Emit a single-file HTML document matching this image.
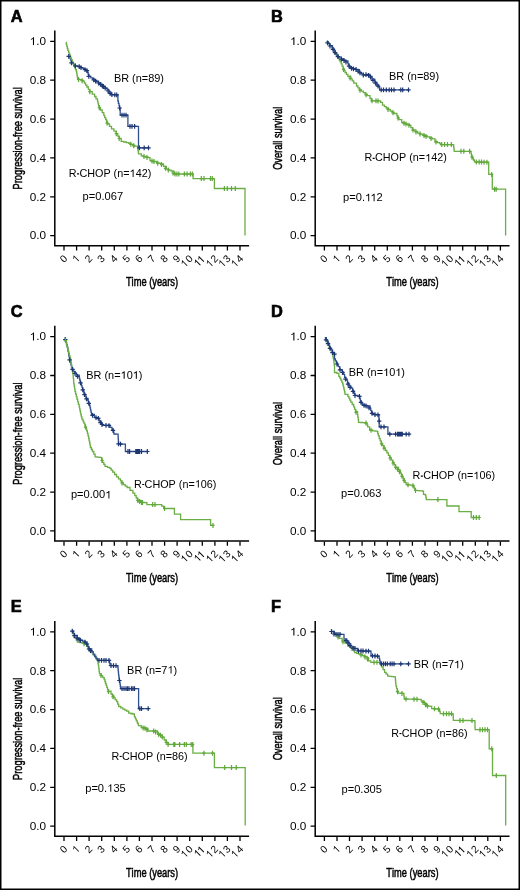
<!DOCTYPE html>
<html><head><meta charset="utf-8"><style>
html,body{margin:0;padding:0;background:#fff;}
body{width:520px;height:890px;overflow:hidden;}
svg{display:block;will-change:transform;}
text{font-family:"Liberation Sans",sans-serif;font-kerning:none;white-space:pre;}
</style></head><body>
<svg width="520" height="890" viewBox="0 0 520 890">
<rect x="0" y="0" width="520" height="890" fill="#fff"/>

<g transform="translate(0,0)">
<text x="10.7" y="21.8" font-size="16.4" font-weight="bold" fill="#000" stroke="#000" stroke-width="0.6">A</text>
<path d="M54.8 30.5V245.8H249.1" fill="none" stroke="#000" stroke-width="1.5"/>
<path d="M50.2 41.4H55M50.2 80.2H55M50.2 119.1H55M50.2 157.9H55M50.2 196.8H55M50.2 235.6H55M64 246.1V250.4M76.6 246.1V250.4M89.1 246.1V250.4M101.7 246.1V250.4M114.3 246.1V250.4M126.9 246.1V250.4M139.4 246.1V250.4M152 246.1V250.4M164.6 246.1V250.4M177.1 246.1V250.4M189.7 246.1V250.4M202.3 246.1V250.4M214.9 246.1V250.4M227.4 246.1V250.4M240 246.1V250.4" stroke="#000" stroke-width="1.3"/>
<g transform="translate(46,45.1) scale(1.07,1)"><text x="-9.2" y="0" font-size="11">.0</text><path d="M-11.2 0L-11.2 -7.9L-11.9 -7.9L-12.4 -7.2L-13 -6.7L-14.1 -6.2L-14.1 -5.3L-13.1 -5.7L-12.2 -6.3L-12.2 0Z"/></g>
<g transform="translate(46,84) scale(1.07,1)"><text x="-15.3" y="0" font-size="11">0.8</text></g>
<g transform="translate(46,122.8) scale(1.07,1)"><text x="-15.3" y="0" font-size="11">0.6</text></g>
<g transform="translate(46,161.7) scale(1.07,1)"><text x="-15.3" y="0" font-size="11">0.4</text></g>
<g transform="translate(46,200.5) scale(1.07,1)"><text x="-15.3" y="0" font-size="11">0.2</text></g>
<g transform="translate(46,239.3) scale(1.07,1)"><text x="-15.3" y="0" font-size="11">0.0</text></g>
<g transform="translate(67.9,259.3) rotate(-45)"><text x="-5.7" y="0" font-size="10.3">0</text></g>
<g transform="translate(80.5,259.3) rotate(-45)"><path d="M-1.9 0L-1.9 -7.4L-2.6 -7.4L-3 -6.7L-3.6 -6.2L-4.6 -5.8L-4.6 -4.9L-3.7 -5.4L-2.8 -5.9L-2.8 0Z"/></g>
<g transform="translate(93,259.3) rotate(-45)"><text x="-5.7" y="0" font-size="10.3">2</text></g>
<g transform="translate(105.6,259.3) rotate(-45)"><text x="-5.7" y="0" font-size="10.3">3</text></g>
<g transform="translate(118.2,259.3) rotate(-45)"><text x="-5.7" y="0" font-size="10.3">4</text></g>
<g transform="translate(130.8,259.3) rotate(-45)"><text x="-5.7" y="0" font-size="10.3">5</text></g>
<g transform="translate(143.3,259.3) rotate(-45)"><text x="-5.7" y="0" font-size="10.3">6</text></g>
<g transform="translate(155.9,259.3) rotate(-45)"><text x="-5.7" y="0" font-size="10.3">7</text></g>
<g transform="translate(168.5,259.3) rotate(-45)"><text x="-5.7" y="0" font-size="10.3">8</text></g>
<g transform="translate(181,259.3) rotate(-45)"><text x="-5.7" y="0" font-size="10.3">9</text></g>
<g transform="translate(193.6,259.3) rotate(-45)"><text x="-5.7" y="0" font-size="10.3">0</text><path d="M-8.6 0L-8.6 -7.4L-9.2 -7.4L-9.7 -6.7L-10.3 -6.2L-11.3 -5.8L-11.3 -4.9L-10.3 -5.4L-9.5 -5.9L-9.5 0Z"/></g>
<g transform="translate(206.2,259.3) rotate(-45)"><path d="M-7.8 0L-7.8 -7.4L-8.5 -7.4L-8.9 -6.7L-9.5 -6.2L-10.5 -5.8L-10.5 -4.9L-9.6 -5.4L-8.7 -5.9L-8.7 0ZM-2.8 0L-2.8 -7.4L-3.5 -7.4L-4 -6.7L-4.5 -6.2L-5.6 -5.8L-5.6 -4.9L-4.6 -5.4L-3.8 -5.9L-3.8 0Z"/></g>
<g transform="translate(218.8,259.3) rotate(-45)"><text x="-5.7" y="0" font-size="10.3">2</text><path d="M-8.6 0L-8.6 -7.4L-9.2 -7.4L-9.7 -6.7L-10.3 -6.2L-11.3 -5.8L-11.3 -4.9L-10.3 -5.4L-9.5 -5.9L-9.5 0Z"/></g>
<g transform="translate(231.3,259.3) rotate(-45)"><text x="-5.7" y="0" font-size="10.3">3</text><path d="M-8.6 0L-8.6 -7.4L-9.2 -7.4L-9.7 -6.7L-10.3 -6.2L-11.3 -5.8L-11.3 -4.9L-10.3 -5.4L-9.5 -5.9L-9.5 0Z"/></g>
<g transform="translate(243.9,259.3) rotate(-45)"><text x="-5.7" y="0" font-size="10.3">4</text><path d="M-8.6 0L-8.6 -7.4L-9.2 -7.4L-9.7 -6.7L-10.3 -6.2L-11.3 -5.8L-11.3 -4.9L-10.3 -5.4L-9.5 -5.9L-9.5 0Z"/></g>
<text transform="translate(152,286.2) scale(0.745,1)" font-size="12.5" text-anchor="middle" stroke="#000" stroke-width="0.5">Time (years)</text>
<text transform="translate(22,138.3) rotate(-90) scale(0.74,1)" font-size="12.5" text-anchor="middle" stroke="#000" stroke-width="0.5">Progression-free survival</text>
</g>
<polyline points="69.3,56.3 70,56.3 70,58.5 70.8,58.5 70.8,60.7 71.5,60.7 71.5,62.9 73.5,62.9 73.5,64.3 75.4,64.3 75.4,65.8 77.3,65.8 77.3,66.2 79.2,66.2 79.2,66.7 81.1,66.7 81.1,67.7 83,67.7 83,68.7 85,68.7 85,69.7 86.9,69.7 86.9,70.6 87.5,70.6 87.5,72.5 88.2,72.5 88.2,74.4 88.8,74.4 88.8,76.3 90.8,76.3 90.8,77.8 92.7,77.8 92.7,79.2 94.6,79.2 94.6,80.5 96.6,80.5 96.6,81.7 98.5,81.7 98.5,83 100.9,83 100.9,84.8 103.3,84.8 103.3,86.5 105.2,86.5 105.2,88.2 107.1,88.2 107.1,89.8 109,89.8 109,92.2 111,92.2 111,94.6 113.3,94.6 113.3,94.7 115.6,94.7 115.6,94.9 117.9,94.9 117.9,95 117.9,101 118.4,101 118.4,103.3 119,103.3 119,105.7 119.5,105.7 119.5,108 120.2,108 120.2,115.1 127.9,115.1 127.9,126.3 138.5,126.3 138.5,147.8 149,147.8" fill="none" stroke="#30508f" stroke-width="1.3" stroke-linejoin="miter"/>
<polyline points="65.8,42.3 66.3,42.3 66.3,44.4 66.8,44.4 66.8,46.4 67.3,46.4 67.3,48.5 67.9,48.5 67.9,50.4 68.6,50.4 68.6,52.3 69.2,52.3 69.2,54.2 70,54.2 70,56.1 70.7,56.1 70.7,58.1 71.5,58.1 71.5,60 72.3,60 72.3,61.9 73,61.9 73,63.9 73.8,63.9 73.8,65.8 74.6,65.8 74.6,67.7 75.5,67.7 75.5,69.6 76.3,69.6 76.3,71.5 76.7,71.5 76.7,73.4 77,73.4 77,75.3 77.3,75.3 77.3,77.3 77.7,77.3 77.7,79.2 79.5,79.2 79.5,79.7 81.2,79.7 81.2,80.2 83,80.2 83,81.2 84.3,81.2 84.3,83.1 85.6,83.1 85.6,85.1 86.9,85.1 86.9,87 88.3,87 88.3,89.3 89.8,89.3 89.8,91.7 92.2,91.7 92.2,94.1 94.6,94.1 94.6,96.5 96,96.5 96,98.9 97.5,98.9 97.5,101.3 98,101.3 98,103.7 98.5,103.7 98.5,106 99.5,106 99.5,108 100.5,108 100.5,110 102.2,110 102.2,112.7 103.8,112.7 103.8,115.4 104.7,115.4 104.7,117.6 105.7,117.6 105.7,119.7 106.6,119.7 106.6,121.8 107.5,121.8 107.5,124 109.5,124 109.5,126.4 111.5,126.4 111.5,128.8 113.9,128.8 113.9,131.2 116.3,131.2 116.3,133.7 117.8,133.7 117.8,136.1 119.2,136.1 119.2,138.5 121.2,138.5 121.2,141.3 123.7,141.3 123.7,142 126.3,142 126.3,142.6 128.8,142.6 128.8,143.3 130.7,143.3 130.7,144.3 132.7,144.3 132.7,145.2 134.6,145.2 134.6,146.2 137.5,146.2 137.5,148 137.8,148 137.8,149.9 138.2,149.9 138.2,151.9 138.5,151.9 138.5,153.8 141.3,153.8 141.3,155.8 143.5,155.8 143.5,156.4 145.8,156.4 145.8,157.1 148,157.1 148,157.7 150,157.7 150,160.6 151.9,160.6 151.9,161.1 153.8,161.1 153.8,161.5 156.7,161.5 156.7,163 158.6,163 158.6,163.4 160.6,163.4 160.6,163.8 163.5,163.8 163.5,166.3 166.3,166.3 166.3,169.2 168.8,169.2 168.8,170.2 171.2,170.2 171.2,171.2 174,171.2 174,174 193.1,174 193.1,178.6 214.4,178.6 214.4,188.5 245,188.5 245,235.6" fill="none" stroke="#6aae45" stroke-width="1.3" stroke-linejoin="miter"/>
<path d="M66.5 56.3h4.4M68.7 53.9v4.8M69.3 62.9h4.4M71.5 60.5v4.8M73.2 65.8h4.4M75.4 63.4v4.8M77 66.7h4.4M79.2 64.3v4.8M78.8 67.6h4.4M81 65.2v4.8M82.8 69.7h4.4M85 67.3v4.8M84.7 70.6h4.4M86.9 68.2v4.8M86.6 76.3h4.4M88.8 73.9v4.8M91.5 79.9h4.4M93.7 77.5v4.8M93.4 81.1h4.4M95.6 78.7v4.8M96.3 83h4.4M98.5 80.6v4.8M98.2 84.4h4.4M100.4 82v4.8M100.1 85.8h4.4M102.3 83.4v4.8M101.1 86.5h4.4M103.3 84.1v4.8M103 88.2h4.4M105.2 85.8v4.8M105.9 91h4.4M108.1 88.6v4.8M107.8 93.4h4.4M110 91v4.8M109.7 94.7h4.4M111.9 92.3v4.8M112.6 94.8h4.4M114.8 92.4v4.8M114.5 94.9h4.4M116.7 92.5v4.8M117.4 108h4.4M119.6 105.6v4.8M119.8 115.1h4.4M122 112.7v4.8M121.8 115.1h4.4M124 112.7v4.8M123.8 115.1h4.4M126 112.7v4.8M127.8 126.3h4.4M130 123.9v4.8M129.8 126.3h4.4M132 123.9v4.8M132.4 126.3h4.4M134.6 123.9v4.8M137.2 147.8h4.4M139.4 145.4v4.8M142 147.8h4.4M144.2 145.4v4.8M146.3 147.8h4.4M148.5 145.4v4.8" stroke="#1c3674" stroke-width="1.2" fill="none"/>
<path d="M76.9 79.4h3.2M78.5 76.9v5M80.5 80.7h3.2M82.1 78.2v5M88.2 91.7h3.2M89.8 89.2v5M97.8 107.8h3.2M99.4 105.3v5M105.5 123.1h3.2M107.1 120.6v5M114.7 133.7h3.2M116.3 131.2v5M117.6 138.5h3.2M119.2 136v5M129.2 144.3h3.2M130.8 141.8v5M132.1 145.8h3.2M133.7 143.2v5M142.4 156.6h3.2M144 154.1v5M145.4 157.4h3.2M147 154.9v5M150.4 161.1h3.2M152 158.6v5M152.4 161.6h3.2M154 159.1v5M156.1 163.2h3.2M157.7 160.7v5M159.9 164.6h3.2M161.5 162.1v5M163.8 168.3h3.2M165.4 165.8v5M166.7 170h3.2M168.3 167.5v5M171.4 173h3.2M173 170.5v5M173.4 174h3.2M175 171.5v5M175.3 174h3.2M176.9 171.5v5M177.2 174h3.2M178.8 171.5v5M182.8 174h3.2M184.4 171.5v5M185.5 174h3.2M187.1 171.5v5M188.8 174h3.2M190.4 171.5v5M190.7 174h3.2M192.3 171.5v5M199.7 178.6h3.2M201.3 176.1v5M202.4 178.6h3.2M204 176.1v5M208.9 178.6h3.2M210.5 176.1v5M210.7 178.6h3.2M212.3 176.1v5M222.8 188.5h3.2M224.4 186v5M225.7 188.5h3.2M227.3 186v5M229.9 188.5h3.2M231.5 186v5M233.7 188.5h3.2M235.3 186v5" stroke="#5fa83a" stroke-width="1.2" fill="none"/>
<g transform="translate(113.9,81.8) scale(1.04,1)"><text x="0" y="0" font-size="10.5">BR (n=89)</text></g>
<g transform="translate(68.8,176.9) scale(1.03,1)"><text x="0" y="0" font-size="10.5">R</text><text x="10.3" y="0" font-size="10.5">CHOP (n=</text><text x="64.9" y="0" font-size="10.5">42)</text><path d="M8 -3.6h2v1.1h-2ZM62.9 0L62.9 -7.5L62.2 -7.5L61.8 -6.9L61.2 -6.4L60.1 -5.9L60.1 -5L61.1 -5.5L62 -6L62 0Z"/></g>
<g transform="translate(82.6,200.4) scale(1.06,1)"><text x="0" y="0" font-size="10.5">p=0.067</text></g>
<g transform="translate(260.4,0)">
<text x="10.7" y="21.8" font-size="16.4" font-weight="bold" fill="#000" stroke="#000" stroke-width="0.6">B</text>
<path d="M54.8 30.5V245.8H249.1" fill="none" stroke="#000" stroke-width="1.5"/>
<path d="M50.2 41.4H55M50.2 80.2H55M50.2 119.1H55M50.2 157.9H55M50.2 196.8H55M50.2 235.6H55M64 246.1V250.4M76.6 246.1V250.4M89.1 246.1V250.4M101.7 246.1V250.4M114.3 246.1V250.4M126.9 246.1V250.4M139.4 246.1V250.4M152 246.1V250.4M164.6 246.1V250.4M177.1 246.1V250.4M189.7 246.1V250.4M202.3 246.1V250.4M214.9 246.1V250.4M227.4 246.1V250.4M240 246.1V250.4" stroke="#000" stroke-width="1.3"/>
<g transform="translate(46,45.1) scale(1.07,1)"><text x="-9.2" y="0" font-size="11">.0</text><path d="M-11.2 0L-11.2 -7.9L-11.9 -7.9L-12.4 -7.2L-13 -6.7L-14.1 -6.2L-14.1 -5.3L-13.1 -5.7L-12.2 -6.3L-12.2 0Z"/></g>
<g transform="translate(46,84) scale(1.07,1)"><text x="-15.3" y="0" font-size="11">0.8</text></g>
<g transform="translate(46,122.8) scale(1.07,1)"><text x="-15.3" y="0" font-size="11">0.6</text></g>
<g transform="translate(46,161.7) scale(1.07,1)"><text x="-15.3" y="0" font-size="11">0.4</text></g>
<g transform="translate(46,200.5) scale(1.07,1)"><text x="-15.3" y="0" font-size="11">0.2</text></g>
<g transform="translate(46,239.3) scale(1.07,1)"><text x="-15.3" y="0" font-size="11">0.0</text></g>
<g transform="translate(67.9,259.3) rotate(-45)"><text x="-5.7" y="0" font-size="10.3">0</text></g>
<g transform="translate(80.5,259.3) rotate(-45)"><path d="M-1.9 0L-1.9 -7.4L-2.6 -7.4L-3 -6.7L-3.6 -6.2L-4.6 -5.8L-4.6 -4.9L-3.7 -5.4L-2.8 -5.9L-2.8 0Z"/></g>
<g transform="translate(93,259.3) rotate(-45)"><text x="-5.7" y="0" font-size="10.3">2</text></g>
<g transform="translate(105.6,259.3) rotate(-45)"><text x="-5.7" y="0" font-size="10.3">3</text></g>
<g transform="translate(118.2,259.3) rotate(-45)"><text x="-5.7" y="0" font-size="10.3">4</text></g>
<g transform="translate(130.8,259.3) rotate(-45)"><text x="-5.7" y="0" font-size="10.3">5</text></g>
<g transform="translate(143.3,259.3) rotate(-45)"><text x="-5.7" y="0" font-size="10.3">6</text></g>
<g transform="translate(155.9,259.3) rotate(-45)"><text x="-5.7" y="0" font-size="10.3">7</text></g>
<g transform="translate(168.5,259.3) rotate(-45)"><text x="-5.7" y="0" font-size="10.3">8</text></g>
<g transform="translate(181,259.3) rotate(-45)"><text x="-5.7" y="0" font-size="10.3">9</text></g>
<g transform="translate(193.6,259.3) rotate(-45)"><text x="-5.7" y="0" font-size="10.3">0</text><path d="M-8.6 0L-8.6 -7.4L-9.2 -7.4L-9.7 -6.7L-10.3 -6.2L-11.3 -5.8L-11.3 -4.9L-10.3 -5.4L-9.5 -5.9L-9.5 0Z"/></g>
<g transform="translate(206.2,259.3) rotate(-45)"><path d="M-7.8 0L-7.8 -7.4L-8.5 -7.4L-8.9 -6.7L-9.5 -6.2L-10.5 -5.8L-10.5 -4.9L-9.6 -5.4L-8.7 -5.9L-8.7 0ZM-2.8 0L-2.8 -7.4L-3.5 -7.4L-4 -6.7L-4.5 -6.2L-5.6 -5.8L-5.6 -4.9L-4.6 -5.4L-3.8 -5.9L-3.8 0Z"/></g>
<g transform="translate(218.8,259.3) rotate(-45)"><text x="-5.7" y="0" font-size="10.3">2</text><path d="M-8.6 0L-8.6 -7.4L-9.2 -7.4L-9.7 -6.7L-10.3 -6.2L-11.3 -5.8L-11.3 -4.9L-10.3 -5.4L-9.5 -5.9L-9.5 0Z"/></g>
<g transform="translate(231.3,259.3) rotate(-45)"><text x="-5.7" y="0" font-size="10.3">3</text><path d="M-8.6 0L-8.6 -7.4L-9.2 -7.4L-9.7 -6.7L-10.3 -6.2L-11.3 -5.8L-11.3 -4.9L-10.3 -5.4L-9.5 -5.9L-9.5 0Z"/></g>
<g transform="translate(243.9,259.3) rotate(-45)"><text x="-5.7" y="0" font-size="10.3">4</text><path d="M-8.6 0L-8.6 -7.4L-9.2 -7.4L-9.7 -6.7L-10.3 -6.2L-11.3 -5.8L-11.3 -4.9L-10.3 -5.4L-9.5 -5.9L-9.5 0Z"/></g>
<text transform="translate(152,286.2) scale(0.745,1)" font-size="12.5" text-anchor="middle" stroke="#000" stroke-width="0.5">Time (years)</text>
<text transform="translate(22,138.3) rotate(-90) scale(0.74,1)" font-size="12.5" text-anchor="middle" stroke="#000" stroke-width="0.5">Overall survival</text>
</g>
<polyline points="326.7,41.7 328.3,41.7 328.3,43.6 329.9,43.6 329.9,45.6 331.5,45.6 331.5,47.5 332.7,47.5 332.7,49.7 333.9,49.7 333.9,51.9 335.1,51.9 335.1,54 336.3,54 336.3,56.2 337.8,56.2 337.8,58.1 339.2,58.1 339.2,60 340.2,60 340.2,61.9 341.2,61.9 341.2,63.8 342.1,63.8 342.1,66.2 343.1,66.2 343.1,68.7 344.1,68.7 344.1,70.6 345,70.6 345,72.5 346.4,72.5 346.4,74.4 347.9,74.4 347.9,76.3 350.8,76.3 350.8,78.8 352.2,78.8 352.2,80.9 353.7,80.9 353.7,83.1 356.5,83.1 356.5,86 357.9,86 357.9,87.9 359.4,87.9 359.4,89.8 361.4,89.8 361.4,91.2 363.3,91.2 363.3,92.7 365.2,92.7 365.2,94.2 367.1,94.2 367.1,95.6 370,95.6 370,98.5 371.5,98.5 371.5,100.8 377.7,100.8 380.6,100.8 380.6,102.3 382.5,102.3 382.5,105.2 384.4,105.2 384.4,106.7 386.3,106.7 386.3,108.1 388.2,108.1 388.2,109.5 390.2,109.5 390.2,111 392.1,111 392.1,112.2 394,112.2 394,113.5 396.9,113.5 396.9,115.8 397.9,115.8 397.9,117.7 398.8,117.7 398.8,119.6 401.7,119.6 401.7,122.5 403.6,122.5 403.6,123.2 405.6,123.2 405.6,123.8 407.5,123.8 407.5,124.6 409.4,124.6 409.4,125.4 410.9,125.4 410.9,127.6 412.5,127.6 412.5,129.8 415.1,129.8 415.1,131.4 417.7,131.4 417.7,133.1 420.1,133.1 420.1,134.1 422.5,134.1 422.5,135 424.9,135 424.9,135.9 427.3,135.9 427.3,136.9 429.7,136.9 429.7,137.9 432.1,137.9 432.1,138.8 435,138.8 435,141.7 437.4,141.7 437.4,142.7 439.8,142.7 439.8,143.7 440.8,143.7 440.8,144.6 453.3,144.6 453.6,144.6 453.6,146.8 453.9,146.8 453.9,149.1 454.2,149.1 454.2,151.3 470.6,151.3 471.1,151.3 471.1,153.8 471.5,153.8 471.5,156.2 472.5,156.2 472.5,158.1 473.4,158.1 473.4,160 474.4,160 474.4,161.9 476.4,161.9 476.4,162 478.5,162 478.5,162 480.5,162 480.5,162.1 482.6,162.1 482.6,162.1 484.6,162.1 484.6,162.2 486.7,162.2 486.7,162.2 488.7,162.2 488.7,162.3 488.7,174.4 492.3,174.4 492.3,189.2 505.6,189.2 505.6,235.6" fill="none" stroke="#6aae45" stroke-width="1.3" stroke-linejoin="miter"/>
<polyline points="326.7,41.7 328.1,41.7 328.1,43.7 329.6,43.7 329.6,45.6 332.5,45.6 332.5,48.5 333.9,48.5 333.9,50.9 335.4,50.9 335.4,53.3 336.9,53.3 336.9,55.2 338.3,55.2 338.3,57.1 341.2,57.1 341.2,59 343.1,59 343.1,60 345,60 345,61 347.9,61 347.9,63.8 348.9,63.8 348.9,65.8 349.8,65.8 349.8,67.7 352.7,67.7 352.7,68.7 354.6,68.7 354.6,69.2 356.5,69.2 356.5,69.6 359.4,69.6 359.4,72.5 361.4,72.5 361.4,73.8 363.3,73.8 363.3,75 365.2,75 365.2,74.7 367.1,74.7 367.1,74.4 370,74.4 370,76.3 371.9,76.3 371.9,79.2 374.8,79.2 374.8,82.1 376.7,82.1 376.7,85 378.7,85 378.7,86.9 379.6,86.9 379.6,89.8 408.8,89.8" fill="none" stroke="#30508f" stroke-width="1.3" stroke-linejoin="miter"/>
<path d="M341.9 69.5h3.2M343.5 67v5M348.4 78.1h3.2M350 75.6v5M358.4 90.2h3.2M360 87.7v5M364.4 94.8h3.2M366 92.3v5M370.4 100.8h3.2M372 98.3v5M374.4 100.8h3.2M376 98.3v5M376.4 101h3.2M378 98.5v5M386.4 109.4h3.2M388 106.9v5M391.4 112.8h3.2M393 110.3v5M396.4 118h3.2M398 115.5v5M402.4 123.3h3.2M404 120.8v5M404.4 124h3.2M406 121.5v5M407.4 125.2h3.2M409 122.7v5M411.4 130.1h3.2M413 127.6v5M414.4 132h3.2M416 129.5v5M418.4 134h3.2M420 131.5v5M422.4 135.6h3.2M424 133.1v5M424.4 136.4h3.2M426 133.9v5M429.4 138.4h3.2M431 135.9v5M434.4 142.1h3.2M436 139.6v5M440.1 144.6h3.2M441.7 142.1v5M443 144.6h3.2M444.6 142.1v5M445.9 144.6h3.2M447.5 142.1v5M449.7 144.6h3.2M451.3 142.1v5M459.4 151.3h3.2M461 148.8v5M462.2 151.3h3.2M463.8 148.8v5M468 151.3h3.2M469.6 148.8v5M470.4 157.2h3.2M472 154.7v5M474.7 162h3.2M476.3 159.5v5M477.6 162h3.2M479.2 159.5v5M479.9 162.1h3.2M481.5 159.6v5M482.4 162.2h3.2M484 159.7v5M485.3 162.2h3.2M486.9 159.7v5M490.1 174.4h3.2M491.7 171.9v5M493 189.2h3.2M494.6 186.7v5M494.6 189.2h3.2M496.2 186.7v5" stroke="#5fa83a" stroke-width="1.2" fill="none"/>
<path d="M325.3 42.8h4.4M327.5 40.4v4.8M327.8 46h4.4M330 43.6v4.8M330.8 49.3h4.4M333 46.9v4.8M332.8 52.6h4.4M335 50.2v4.8M335.8 56.7h4.4M338 54.3v4.8M339.3 59.2h4.4M341.5 56.8v4.8M341.8 60.5h4.4M344 58.1v4.8M343.8 62h4.4M346 59.6v4.8M346.8 66.1h4.4M349 63.7v4.8M349.3 68.3h4.4M351.5 65.9v4.8M351.3 68.9h4.4M353.5 66.5v4.8M353.8 69.5h4.4M356 67.1v4.8M355.8 71.1h4.4M358 68.7v4.8M357.8 72.9h4.4M360 70.5v4.8M361.1 75h4.4M363.3 72.6v4.8M363.8 74.6h4.4M366 72.2v4.8M366.3 75.3h4.4M368.5 72.9v4.8M368.3 77.1h4.4M370.5 74.7v4.8M370.8 80.3h4.4M373 77.9v4.8M373.3 83.2h4.4M375.5 80.8v4.8M375.8 86.2h4.4M378 83.8v4.8M379 89.8h4.4M381.2 87.4v4.8M381.3 89.8h4.4M383.5 87.4v4.8M384.1 89.8h4.4M386.3 87.4v4.8M387 89.8h4.4M389.2 87.4v4.8M389.3 89.8h4.4M391.5 87.4v4.8M391.8 89.8h4.4M394 87.4v4.8M398.6 89.8h4.4M400.8 87.4v4.8M400.5 89.8h4.4M402.7 87.4v4.8M406.3 89.8h4.4M408.5 87.4v4.8" stroke="#1c3674" stroke-width="1.2" fill="none"/>
<g transform="translate(389,79.8) scale(1.04,1)"><text x="0" y="0" font-size="10.5">BR (n=89)</text></g>
<g transform="translate(364.4,161.4) scale(1.03,1)"><text x="0" y="0" font-size="10.5">R</text><text x="10.3" y="0" font-size="10.5">CHOP (n=</text><text x="64.9" y="0" font-size="10.5">42)</text><path d="M8 -3.6h2v1.1h-2ZM62.9 0L62.9 -7.5L62.2 -7.5L61.8 -6.9L61.2 -6.4L60.1 -5.9L60.1 -5L61.1 -5.5L62 -6L62 0Z"/></g>
<g transform="translate(343.1,201.2) scale(1.06,1)"><text x="0" y="0" font-size="10.5">p=0.</text><text x="31.6" y="0" font-size="10.5">2</text><path d="M24.6 0L24.6 -7.5L23.9 -7.5L23.5 -6.9L22.9 -6.4L21.8 -5.9L21.8 -5L22.8 -5.5L23.7 -6L23.7 0ZM29.7 0L29.7 -7.5L29 -7.5L28.5 -6.9L27.9 -6.4L26.9 -5.9L26.9 -5L27.9 -5.5L28.8 -6L28.8 0Z"/></g>
<g transform="translate(0,295.3)">
<text x="10.7" y="21.8" font-size="16.4" font-weight="bold" fill="#000" stroke="#000" stroke-width="0.6">C</text>
<path d="M54.8 30.5V245.8H249.1" fill="none" stroke="#000" stroke-width="1.5"/>
<path d="M50.2 41.4H55M50.2 80.2H55M50.2 119.1H55M50.2 157.9H55M50.2 196.8H55M50.2 235.6H55M64 246.1V250.4M76.6 246.1V250.4M89.1 246.1V250.4M101.7 246.1V250.4M114.3 246.1V250.4M126.9 246.1V250.4M139.4 246.1V250.4M152 246.1V250.4M164.6 246.1V250.4M177.1 246.1V250.4M189.7 246.1V250.4M202.3 246.1V250.4M214.9 246.1V250.4M227.4 246.1V250.4M240 246.1V250.4" stroke="#000" stroke-width="1.3"/>
<g transform="translate(46,45.1) scale(1.07,1)"><text x="-9.2" y="0" font-size="11">.0</text><path d="M-11.2 0L-11.2 -7.9L-11.9 -7.9L-12.4 -7.2L-13 -6.7L-14.1 -6.2L-14.1 -5.3L-13.1 -5.7L-12.2 -6.3L-12.2 0Z"/></g>
<g transform="translate(46,84) scale(1.07,1)"><text x="-15.3" y="0" font-size="11">0.8</text></g>
<g transform="translate(46,122.8) scale(1.07,1)"><text x="-15.3" y="0" font-size="11">0.6</text></g>
<g transform="translate(46,161.7) scale(1.07,1)"><text x="-15.3" y="0" font-size="11">0.4</text></g>
<g transform="translate(46,200.5) scale(1.07,1)"><text x="-15.3" y="0" font-size="11">0.2</text></g>
<g transform="translate(46,239.3) scale(1.07,1)"><text x="-15.3" y="0" font-size="11">0.0</text></g>
<g transform="translate(67.9,259.3) rotate(-45)"><text x="-5.7" y="0" font-size="10.3">0</text></g>
<g transform="translate(80.5,259.3) rotate(-45)"><path d="M-1.9 0L-1.9 -7.4L-2.6 -7.4L-3 -6.7L-3.6 -6.2L-4.6 -5.8L-4.6 -4.9L-3.7 -5.4L-2.8 -5.9L-2.8 0Z"/></g>
<g transform="translate(93,259.3) rotate(-45)"><text x="-5.7" y="0" font-size="10.3">2</text></g>
<g transform="translate(105.6,259.3) rotate(-45)"><text x="-5.7" y="0" font-size="10.3">3</text></g>
<g transform="translate(118.2,259.3) rotate(-45)"><text x="-5.7" y="0" font-size="10.3">4</text></g>
<g transform="translate(130.8,259.3) rotate(-45)"><text x="-5.7" y="0" font-size="10.3">5</text></g>
<g transform="translate(143.3,259.3) rotate(-45)"><text x="-5.7" y="0" font-size="10.3">6</text></g>
<g transform="translate(155.9,259.3) rotate(-45)"><text x="-5.7" y="0" font-size="10.3">7</text></g>
<g transform="translate(168.5,259.3) rotate(-45)"><text x="-5.7" y="0" font-size="10.3">8</text></g>
<g transform="translate(181,259.3) rotate(-45)"><text x="-5.7" y="0" font-size="10.3">9</text></g>
<g transform="translate(193.6,259.3) rotate(-45)"><text x="-5.7" y="0" font-size="10.3">0</text><path d="M-8.6 0L-8.6 -7.4L-9.2 -7.4L-9.7 -6.7L-10.3 -6.2L-11.3 -5.8L-11.3 -4.9L-10.3 -5.4L-9.5 -5.9L-9.5 0Z"/></g>
<g transform="translate(206.2,259.3) rotate(-45)"><path d="M-7.8 0L-7.8 -7.4L-8.5 -7.4L-8.9 -6.7L-9.5 -6.2L-10.5 -5.8L-10.5 -4.9L-9.6 -5.4L-8.7 -5.9L-8.7 0ZM-2.8 0L-2.8 -7.4L-3.5 -7.4L-4 -6.7L-4.5 -6.2L-5.6 -5.8L-5.6 -4.9L-4.6 -5.4L-3.8 -5.9L-3.8 0Z"/></g>
<g transform="translate(218.8,259.3) rotate(-45)"><text x="-5.7" y="0" font-size="10.3">2</text><path d="M-8.6 0L-8.6 -7.4L-9.2 -7.4L-9.7 -6.7L-10.3 -6.2L-11.3 -5.8L-11.3 -4.9L-10.3 -5.4L-9.5 -5.9L-9.5 0Z"/></g>
<g transform="translate(231.3,259.3) rotate(-45)"><text x="-5.7" y="0" font-size="10.3">3</text><path d="M-8.6 0L-8.6 -7.4L-9.2 -7.4L-9.7 -6.7L-10.3 -6.2L-11.3 -5.8L-11.3 -4.9L-10.3 -5.4L-9.5 -5.9L-9.5 0Z"/></g>
<g transform="translate(243.9,259.3) rotate(-45)"><text x="-5.7" y="0" font-size="10.3">4</text><path d="M-8.6 0L-8.6 -7.4L-9.2 -7.4L-9.7 -6.7L-10.3 -6.2L-11.3 -5.8L-11.3 -4.9L-10.3 -5.4L-9.5 -5.9L-9.5 0Z"/></g>
<text transform="translate(152,286.2) scale(0.745,1)" font-size="12.5" text-anchor="middle" stroke="#000" stroke-width="0.5">Time (years)</text>
<text transform="translate(22,138.3) rotate(-90) scale(0.74,1)" font-size="12.5" text-anchor="middle" stroke="#000" stroke-width="0.5">Progression-free survival</text>
</g>
<polyline points="64.8,337.7 65.4,337.7 65.4,340 66,340 66,342.3 66.5,342.3 66.5,344.6 67.1,344.6 67.1,346.9 67.7,346.9 67.7,349.2 68.1,349.2 68.1,351.3 68.5,351.3 68.5,353.4 68.8,353.4 68.8,355.6 69.2,355.6 69.2,357.7 69.6,357.7 69.6,359.8 70.2,359.8 70.2,362.4 70.9,362.4 70.9,364.9 71.5,364.9 71.5,367.5 72.5,367.5 72.5,369.4 73.5,369.4 73.5,371.3 74.9,371.3 74.9,373.2 76.3,373.2 76.3,375.2 79.2,375.2 79.2,378.1 79.7,378.1 79.7,380 80.2,380 80.2,381.9 80.8,381.9 80.8,383.8 81.5,383.8 81.5,385.8 82.1,385.8 82.1,387.7 82.7,387.7 82.7,389.6 83.4,389.6 83.4,391.6 84,391.6 84,393.5 85,393.5 85,395.9 86,395.9 86,398.3 87.7,398.3 87.7,400 88.3,400 88.3,401.9 89,401.9 89,403.9 89.6,403.9 89.6,405.8 90.1,405.8 90.1,407.9 90.5,407.9 90.5,410.1 91,410.1 91,412.2 91.5,412.2 91.5,414.4 94.4,414.4 94.4,417.3 96.3,417.3 96.3,417.8 98.3,417.8 98.3,418.3 99.2,418.3 99.2,421.2 101.2,421.2 101.2,423.3 102.5,423.3 102.5,425.3 106.5,425.3 108.6,425.3 108.6,425 109.9,425 109.9,427.3 112,427.3 112,429.5 113.3,429.5 113.3,430.7 113.6,430.7 113.6,432.4 113.9,432.4 113.9,434 116,434 116,434.1 118,434.1 118,434.3 118.1,434.3 118.1,436.7 118.2,436.7 118.2,439.1 118.4,439.1 118.4,441.4 118.5,441.4 118.5,443.8 121.3,443.8 121.3,444.2 125.4,444.2 125.4,451.5 148.3,451.5" fill="none" stroke="#30508f" stroke-width="1.3" stroke-linejoin="miter"/>
<polyline points="64.8,337.7 65.4,337.7 65.4,340.3 66.1,340.3 66.1,342.8 66.7,342.8 66.7,345.4 67.2,345.4 67.2,347.3 67.7,347.3 67.7,349.2 68.2,349.2 68.2,351.2 68.7,351.2 68.7,353.1 69.3,353.1 69.3,355.7 70,355.7 70,358.2 70.6,358.2 70.6,360.8 71,360.8 71,363.4 71.5,363.4 71.5,365.9 71.9,365.9 71.9,368.5 72.3,368.5 72.3,371.1 72.7,371.1 72.7,373.6 73.1,373.6 73.1,376.2 73.3,376.2 73.3,378.7 73.6,378.7 73.6,381.3 73.8,381.3 73.8,383.8 74.2,383.8 74.2,386.4 74.6,386.4 74.6,388.9 75,388.9 75,391.5 75.6,391.5 75.6,394.1 76.3,394.1 76.3,396.6 76.9,396.6 76.9,399.2 77.7,399.2 77.7,401.8 78.4,401.8 78.4,404.3 79.2,404.3 79.2,406.9 79.6,406.9 79.6,408.8 80,408.8 80,410.8 80.4,410.8 80.4,412.7 80.8,412.7 80.8,414.6 81.3,414.6 81.3,416.9 81.9,416.9 81.9,419.2 82.9,419.2 82.9,421.1 83.8,421.1 83.8,423.1 84.8,423.1 84.8,425 85.4,425 85.4,426.9 86.1,426.9 86.1,428.9 86.7,428.9 86.7,430.8 87.4,430.8 87.4,433.4 88,433.4 88,435.9 88.7,435.9 88.7,438.5 89.1,438.5 89.1,440.8 89.6,440.8 89.6,443 90,443 90,445.2 90.4,445.2 90.4,447.5 91.4,447.5 91.4,449.5 92.4,449.5 92.4,451.5 93.8,451.5 93.8,454.2 95.1,454.2 95.1,456.9 97.1,456.9 97.1,457.1 99.2,457.1 99.2,457.4 101.2,457.4 101.2,457.6 101.8,457.6 101.8,460 102.5,460 102.5,462.3 103.8,462.3 103.8,464.3 105,464.3 105,466.3 107.4,466.3 107.4,467.3 109.8,467.3 109.8,468.3 111.2,468.3 111.2,470.2 112.7,470.2 112.7,472.1 114.6,472.1 114.6,474.5 116.5,474.5 116.5,476.9 118.5,476.9 118.5,478.9 120.4,478.9 120.4,480.8 121.8,480.8 121.8,482.7 123.3,482.7 123.3,484.6 125.2,484.6 125.2,486.1 127.1,486.1 127.1,487.5 130,487.5 130,490.4 132.9,490.4 132.9,493.1 134.8,493.1 134.8,495.6 136.2,495.6 136.2,498 137.7,498 137.7,500.4 140.6,500.4 140.6,502.3 143,502.3 143,502.5 145.4,502.5 145.4,502.7 146.9,502.7 146.9,504.6 160.8,504.6 161.7,504.6 161.7,506.2 163.7,506.2 163.7,508.5 174.4,508.5 174.4,514.2 180.6,514.2 180.6,519.6 210.6,519.6 210.6,525.4 213.7,525.4" fill="none" stroke="#6aae45" stroke-width="1.3" stroke-linejoin="miter"/>
<path d="M63.1 339.7h4.4M65.3 337.3v4.8M67.4 359.8h4.4M69.6 357.4v4.8M70.3 369.4h4.4M72.5 367v4.8M72.8 373.4h4.4M75 371v4.8M75.3 376.4h4.4M77.5 374v4.8M78.3 382.8h4.4M80.5 380.4v4.8M80.6 389.8h4.4M82.8 387.4v4.8M82.3 394.7h4.4M84.5 392.3v4.8M84.3 398.8h4.4M86.5 396.4v4.8M86.6 403.4h4.4M88.8 401v4.8M90.3 415.4h4.4M92.5 413v4.8M93.8 417.7h4.4M96 415.3v4.8M96.1 418.3h4.4M98.3 415.9v4.8M98.3 422.6h4.4M100.5 420.2v4.8M99.8 424.5h4.4M102 422.1v4.8M103.8 425.3h4.4M106 422.9v4.8M106.8 425.7h4.4M109 423.3v4.8M110.8 430.4h4.4M113 428v4.8M116.3 443.8h4.4M118.5 441.4v4.8M118.3 444.1h4.4M120.5 441.7v4.8M125.8 451.5h4.4M128 449.1v4.8M127.4 451.5h4.4M129.6 449.1v4.8M133.6 451.5h4.4M135.8 449.1v4.8M134.5 451.5h4.4M136.7 449.1v4.8M135.5 451.5h4.4M137.7 449.1v4.8M136.5 451.5h4.4M138.7 449.1v4.8M137.4 451.5h4.4M139.6 449.1v4.8M139.3 451.5h4.4M141.5 449.1v4.8M145.1 451.5h4.4M147.3 449.1v4.8" stroke="#1c3674" stroke-width="1.2" fill="none"/>
<path d="M63.9 340.5h3.2M65.5 338v5M83.9 427.1h3.2M85.5 424.6v5M100.4 460.5h3.2M102 458v5M120.4 482.9h3.2M122 480.4v5M136.1 500.4h3.2M137.7 497.9v5M138 501.6h3.2M139.6 499.1v5M139.9 502.4h3.2M141.5 499.9v5M140.9 502.5h3.2M142.5 500v5M151.1 504.6h3.2M152.7 502.1v5M153.4 504.6h3.2M155 502.1v5M163 508.5h3.2M164.6 506v5M211.4 525.4h3.2M213 522.9v5" stroke="#5fa83a" stroke-width="1.2" fill="none"/>
<g transform="translate(86.3,378.7) scale(1.04,1)"><text x="0" y="0" font-size="10.5">BR (n=</text><text x="38.8" y="0" font-size="10.5">0</text><text x="50.5" y="0" font-size="10.5">)</text><path d="M36.9 0L36.9 -7.5L36.2 -7.5L35.7 -6.9L35.1 -6.4L34.1 -5.9L34.1 -5L35.1 -5.5L35.9 -6L35.9 0ZM48.6 0L48.6 -7.5L47.9 -7.5L47.4 -6.9L46.8 -6.4L45.8 -5.9L45.8 -5L46.8 -5.5L47.6 -6L47.6 0Z"/></g>
<g transform="translate(134,487.6) scale(1.03,1)"><text x="0" y="0" font-size="10.5">R</text><text x="10.3" y="0" font-size="10.5">CHOP (n=</text><text x="64.9" y="0" font-size="10.5">06)</text><path d="M8 -3.6h2v1.1h-2ZM62.9 0L62.9 -7.5L62.2 -7.5L61.8 -6.9L61.2 -6.4L60.1 -5.9L60.1 -5L61.1 -5.5L62 -6L62 0Z"/></g>
<g transform="translate(70.9,498.4) scale(1.06,1)"><text x="0" y="0" font-size="10.5">p=0.00</text><path d="M36.3 0L36.3 -7.5L35.6 -7.5L35.2 -6.9L34.6 -6.4L33.5 -5.9L33.5 -5L34.5 -5.5L35.4 -6L35.4 0Z"/></g>
<g transform="translate(260.4,295.3)">
<text x="10.7" y="21.8" font-size="16.4" font-weight="bold" fill="#000" stroke="#000" stroke-width="0.6">D</text>
<path d="M54.8 30.5V245.8H249.1" fill="none" stroke="#000" stroke-width="1.5"/>
<path d="M50.2 41.4H55M50.2 80.2H55M50.2 119.1H55M50.2 157.9H55M50.2 196.8H55M50.2 235.6H55M64 246.1V250.4M76.6 246.1V250.4M89.1 246.1V250.4M101.7 246.1V250.4M114.3 246.1V250.4M126.9 246.1V250.4M139.4 246.1V250.4M152 246.1V250.4M164.6 246.1V250.4M177.1 246.1V250.4M189.7 246.1V250.4M202.3 246.1V250.4M214.9 246.1V250.4M227.4 246.1V250.4M240 246.1V250.4" stroke="#000" stroke-width="1.3"/>
<g transform="translate(46,45.1) scale(1.07,1)"><text x="-9.2" y="0" font-size="11">.0</text><path d="M-11.2 0L-11.2 -7.9L-11.9 -7.9L-12.4 -7.2L-13 -6.7L-14.1 -6.2L-14.1 -5.3L-13.1 -5.7L-12.2 -6.3L-12.2 0Z"/></g>
<g transform="translate(46,84) scale(1.07,1)"><text x="-15.3" y="0" font-size="11">0.8</text></g>
<g transform="translate(46,122.8) scale(1.07,1)"><text x="-15.3" y="0" font-size="11">0.6</text></g>
<g transform="translate(46,161.7) scale(1.07,1)"><text x="-15.3" y="0" font-size="11">0.4</text></g>
<g transform="translate(46,200.5) scale(1.07,1)"><text x="-15.3" y="0" font-size="11">0.2</text></g>
<g transform="translate(46,239.3) scale(1.07,1)"><text x="-15.3" y="0" font-size="11">0.0</text></g>
<g transform="translate(67.9,259.3) rotate(-45)"><text x="-5.7" y="0" font-size="10.3">0</text></g>
<g transform="translate(80.5,259.3) rotate(-45)"><path d="M-1.9 0L-1.9 -7.4L-2.6 -7.4L-3 -6.7L-3.6 -6.2L-4.6 -5.8L-4.6 -4.9L-3.7 -5.4L-2.8 -5.9L-2.8 0Z"/></g>
<g transform="translate(93,259.3) rotate(-45)"><text x="-5.7" y="0" font-size="10.3">2</text></g>
<g transform="translate(105.6,259.3) rotate(-45)"><text x="-5.7" y="0" font-size="10.3">3</text></g>
<g transform="translate(118.2,259.3) rotate(-45)"><text x="-5.7" y="0" font-size="10.3">4</text></g>
<g transform="translate(130.8,259.3) rotate(-45)"><text x="-5.7" y="0" font-size="10.3">5</text></g>
<g transform="translate(143.3,259.3) rotate(-45)"><text x="-5.7" y="0" font-size="10.3">6</text></g>
<g transform="translate(155.9,259.3) rotate(-45)"><text x="-5.7" y="0" font-size="10.3">7</text></g>
<g transform="translate(168.5,259.3) rotate(-45)"><text x="-5.7" y="0" font-size="10.3">8</text></g>
<g transform="translate(181,259.3) rotate(-45)"><text x="-5.7" y="0" font-size="10.3">9</text></g>
<g transform="translate(193.6,259.3) rotate(-45)"><text x="-5.7" y="0" font-size="10.3">0</text><path d="M-8.6 0L-8.6 -7.4L-9.2 -7.4L-9.7 -6.7L-10.3 -6.2L-11.3 -5.8L-11.3 -4.9L-10.3 -5.4L-9.5 -5.9L-9.5 0Z"/></g>
<g transform="translate(206.2,259.3) rotate(-45)"><path d="M-7.8 0L-7.8 -7.4L-8.5 -7.4L-8.9 -6.7L-9.5 -6.2L-10.5 -5.8L-10.5 -4.9L-9.6 -5.4L-8.7 -5.9L-8.7 0ZM-2.8 0L-2.8 -7.4L-3.5 -7.4L-4 -6.7L-4.5 -6.2L-5.6 -5.8L-5.6 -4.9L-4.6 -5.4L-3.8 -5.9L-3.8 0Z"/></g>
<g transform="translate(218.8,259.3) rotate(-45)"><text x="-5.7" y="0" font-size="10.3">2</text><path d="M-8.6 0L-8.6 -7.4L-9.2 -7.4L-9.7 -6.7L-10.3 -6.2L-11.3 -5.8L-11.3 -4.9L-10.3 -5.4L-9.5 -5.9L-9.5 0Z"/></g>
<g transform="translate(231.3,259.3) rotate(-45)"><text x="-5.7" y="0" font-size="10.3">3</text><path d="M-8.6 0L-8.6 -7.4L-9.2 -7.4L-9.7 -6.7L-10.3 -6.2L-11.3 -5.8L-11.3 -4.9L-10.3 -5.4L-9.5 -5.9L-9.5 0Z"/></g>
<g transform="translate(243.9,259.3) rotate(-45)"><text x="-5.7" y="0" font-size="10.3">4</text><path d="M-8.6 0L-8.6 -7.4L-9.2 -7.4L-9.7 -6.7L-10.3 -6.2L-11.3 -5.8L-11.3 -4.9L-10.3 -5.4L-9.5 -5.9L-9.5 0Z"/></g>
<text transform="translate(152,286.2) scale(0.745,1)" font-size="12.5" text-anchor="middle" stroke="#000" stroke-width="0.5">Time (years)</text>
<text transform="translate(22,138.3) rotate(-90) scale(0.74,1)" font-size="12.5" text-anchor="middle" stroke="#000" stroke-width="0.5">Overall survival</text>
</g>
<polyline points="324.8,337.7 325.8,337.7 325.8,339.7 326.8,339.7 326.8,341.7 328.3,341.7 328.3,344.6 329.2,344.6 329.2,347 330.2,347 330.2,349.4 331.4,349.4 331.4,352 332.6,352 332.6,354.7 332.9,354.7 332.9,356.4 333.1,356.4 333.1,358 333.6,358 333.6,360.4 334,360.4 334,362.8 334.2,362.8 334.2,365.2 334.5,365.2 334.5,367.7 334.5,372.5 336.9,372.5 336.9,373.4 338.8,373.4 338.8,376.3 339.8,376.3 339.8,378.2 340.8,378.2 340.8,380.2 341.8,380.2 341.8,382.1 342.7,382.1 342.7,384 343.1,384 343.1,385.9 343.6,385.9 343.6,387.7 344,387.7 344,389.6 344.5,389.6 344.5,392 345,392 345,394.4 347.9,394.4 347.9,396.3 348.9,396.3 348.9,398.2 349.8,398.2 349.8,400.2 350.8,400.2 350.8,402.1 352.2,402.1 352.2,404.5 353.7,404.5 353.7,406.9 354.6,406.9 354.6,409.3 355.6,409.3 355.6,411.7 357.5,411.7 357.5,414.6 357.8,414.6 357.8,417.2 358.2,417.2 358.2,419.7 358.5,419.7 358.5,422.3 360.5,422.3 360.5,422.5 362.5,422.5 362.5,422.7 364.5,422.7 364.5,422.9 366.5,422.9 366.5,423.1 367.1,423.1 367.1,425 367.7,425 367.7,426.9 369.6,426.9 369.6,429.8 372.5,429.8 372.5,430.8 374.9,430.8 374.9,431.2 377.3,431.2 377.3,431.7 377.8,431.7 377.8,433.6 378.3,433.6 378.3,435.6 379.2,435.6 379.2,438.5 380.2,438.5 380.2,440.9 381.2,440.9 381.2,443.3 382.6,443.3 382.6,445.7 384,445.7 384,448.1 385.4,448.1 385.4,450.5 386.9,450.5 386.9,452.9 388.4,452.9 388.4,455.3 389.8,455.3 389.8,457.7 391.2,457.7 391.2,460.1 392.7,460.1 392.7,462.5 394.1,462.5 394.1,464.9 395.6,464.9 395.6,467.3 398.5,467.3 398.5,470.2 400.4,470.2 400.4,473.1 401.4,473.1 401.4,475 402.3,475 402.3,476.9 403.2,476.9 403.2,478.9 404.2,478.9 404.2,480.8 405.2,480.8 405.2,482.7 406.2,482.7 406.2,484.6 408.4,484.6 408.4,484.9 410.7,484.9 410.7,485.2 412.9,485.2 412.9,485.5 413.9,485.5 413.9,487.9 414.8,487.9 414.8,490.4 417.4,490.4 417.4,490.7 419.9,490.7 419.9,490.9 422.5,490.9 422.5,491.2 423.5,491.2 423.5,494.4 425.4,494.4 425.4,495.4 425.9,495.4 425.9,497.5 426.3,497.5 426.3,499.6 446.9,499.6 446.9,506 459,506 459,511.7 471.2,511.7 471.2,517.5 479.6,517.5" fill="none" stroke="#6aae45" stroke-width="1.3" stroke-linejoin="miter"/>
<polyline points="324.8,337.7 326.3,337.7 326.3,340.4 327.8,340.4 327.8,343.1 328.8,343.1 328.8,345.4 329.7,345.4 329.7,347.6 330.7,347.6 330.7,349.9 332.6,349.9 332.6,352.8 334.5,352.8 334.5,354.2 334.5,359 335.4,359 335.4,360.9 336.4,360.9 336.4,362.8 337.4,362.8 337.4,364.8 338.3,364.8 338.3,366.7 339.8,366.7 339.8,369.6 342.2,369.6 342.2,372 343.6,372 343.6,374.4 344.6,374.4 344.6,377.3 346,377.3 346,380.2 347.5,380.2 347.5,383 348.8,383 348.8,385.8 350.8,385.8 350.8,388.2 352.7,388.2 352.7,390.6 353.6,390.6 353.6,393 354.6,393 354.6,395.4 357,395.4 357,395.9 359.4,395.9 359.4,396.3 359.9,396.3 359.9,398.8 360.4,398.8 360.4,401.2 361.4,401.2 361.4,403.1 362.3,403.1 362.3,405 364.7,405 364.7,405.5 367.1,405.5 367.1,406 370,406 370,408.8 370.8,408.8 370.8,410.7 371.7,410.7 371.7,412.5 372.5,412.5 372.5,414.4 374.6,414.4 374.6,414.5 376.6,414.5 376.6,414.7 378.7,414.7 378.7,414.8 378.9,414.8 378.9,416.9 379,416.9 379,419.1 379.2,419.1 379.2,421.2 379.2,426.9 387.9,426.9 387.9,434.2 409,434.2" fill="none" stroke="#30508f" stroke-width="1.3" stroke-linejoin="miter"/>
<path d="M354.4 412.3h3.2M356 409.8v5M364.4 423.1h3.2M366 420.6v5M369.4 430.3h3.2M371 427.8v5M379.9 443.8h3.2M381.5 441.3v5M382.4 448.1h3.2M384 445.6v5M388.4 458h3.2M390 455.5v5M391.4 463h3.2M393 460.5v5M393.9 467.1h3.2M395.5 464.6v5M395.9 469.2h3.2M397.5 466.7v5M397.9 471.7h3.2M399.5 469.2v5M400.4 476.3h3.2M402 473.8v5M402.4 480.4h3.2M404 477.9v5M406.4 484.8h3.2M408 482.3v5M411.4 485.8h3.2M413 483.3v5M413.9 490.5h3.2M415.5 488v5M436.3 499.6h3.2M437.9 497.1v5M471.9 517.5h3.2M473.5 515v5M474.7 517.5h3.2M476.3 515v5M477.6 517.5h3.2M479.2 515v5" stroke="#5fa83a" stroke-width="1.2" fill="none"/>
<path d="M323.8 339.9h4.4M326 337.5v4.8M325.8 343.6h4.4M328 341.2v4.8M327.8 348.3h4.4M330 345.9v4.8M330.3 352.6h4.4M332.5 350.2v4.8M332.3 354.2h4.4M334.5 351.8v4.8M334.8 364h4.4M337 361.6v4.8M337.8 369.8h4.4M340 367.4v4.8M340.3 372.5h4.4M342.5 370.1v4.8M343.3 379.2h4.4M345.5 376.8v4.8M345.8 384.1h4.4M348 381.7v4.8M347.8 387.3h4.4M350 384.9v4.8M350.8 391.4h4.4M353 389v4.8M352.8 395.5h4.4M355 393.1v4.8M357.2 396.3h4.4M359.4 393.9v4.8M358.8 402.4h4.4M361 400v4.8M361.8 405.4h4.4M364 403v4.8M363.8 405.8h4.4M366 403.4v4.8M366.8 407.8h4.4M369 405.4v4.8M369.8 413.3h4.4M372 410.9v4.8M372.8 414.6h4.4M375 412.2v4.8M375.8 414.8h4.4M378 412.4v4.8M377 421.2h4.4M379.2 418.8v4.8M378.8 426.9h4.4M381 424.5v4.8M381.8 426.9h4.4M384 424.5v4.8M387.6 434.2h4.4M389.8 431.8v4.8M393.4 434.2h4.4M395.6 431.8v4.8M395.3 434.2h4.4M397.5 431.8v4.8M396.3 434.2h4.4M398.5 431.8v4.8M397.2 434.2h4.4M399.4 431.8v4.8M398.2 434.2h4.4M400.4 431.8v4.8M399.1 434.2h4.4M401.3 431.8v4.8M400.1 434.2h4.4M402.3 431.8v4.8M404 434.2h4.4M406.2 431.8v4.8M406.8 434.2h4.4M409 431.8v4.8" stroke="#1c3674" stroke-width="1.2" fill="none"/>
<g transform="translate(348.8,376.1) scale(1.04,1)"><text x="0" y="0" font-size="10.5">BR (n=</text><text x="38.8" y="0" font-size="10.5">0</text><text x="50.5" y="0" font-size="10.5">)</text><path d="M36.9 0L36.9 -7.5L36.2 -7.5L35.7 -6.9L35.1 -6.4L34.1 -5.9L34.1 -5L35.1 -5.5L35.9 -6L35.9 0ZM48.6 0L48.6 -7.5L47.9 -7.5L47.4 -6.9L46.8 -6.4L45.8 -5.9L45.8 -5L46.8 -5.5L47.6 -6L47.6 0Z"/></g>
<g transform="translate(412.6,479.2) scale(1.03,1)"><text x="0" y="0" font-size="10.5">R</text><text x="10.3" y="0" font-size="10.5">CHOP (n=</text><text x="64.9" y="0" font-size="10.5">06)</text><path d="M8 -3.6h2v1.1h-2ZM62.9 0L62.9 -7.5L62.2 -7.5L61.8 -6.9L61.2 -6.4L60.1 -5.9L60.1 -5L61.1 -5.5L62 -6L62 0Z"/></g>
<g transform="translate(341,497.4) scale(1.06,1)"><text x="0" y="0" font-size="10.5">p=0.063</text></g>
<g transform="translate(0,590.5)">
<text x="10.7" y="21.8" font-size="16.4" font-weight="bold" fill="#000" stroke="#000" stroke-width="0.6">E</text>
<path d="M54.8 30.5V245.8H249.1" fill="none" stroke="#000" stroke-width="1.5"/>
<path d="M50.2 41.4H55M50.2 80.2H55M50.2 119.1H55M50.2 157.9H55M50.2 196.8H55M50.2 235.6H55M64 246.1V250.4M76.6 246.1V250.4M89.1 246.1V250.4M101.7 246.1V250.4M114.3 246.1V250.4M126.9 246.1V250.4M139.4 246.1V250.4M152 246.1V250.4M164.6 246.1V250.4M177.1 246.1V250.4M189.7 246.1V250.4M202.3 246.1V250.4M214.9 246.1V250.4M227.4 246.1V250.4M240 246.1V250.4" stroke="#000" stroke-width="1.3"/>
<g transform="translate(46,45.1) scale(1.07,1)"><text x="-9.2" y="0" font-size="11">.0</text><path d="M-11.2 0L-11.2 -7.9L-11.9 -7.9L-12.4 -7.2L-13 -6.7L-14.1 -6.2L-14.1 -5.3L-13.1 -5.7L-12.2 -6.3L-12.2 0Z"/></g>
<g transform="translate(46,84) scale(1.07,1)"><text x="-15.3" y="0" font-size="11">0.8</text></g>
<g transform="translate(46,122.8) scale(1.07,1)"><text x="-15.3" y="0" font-size="11">0.6</text></g>
<g transform="translate(46,161.7) scale(1.07,1)"><text x="-15.3" y="0" font-size="11">0.4</text></g>
<g transform="translate(46,200.5) scale(1.07,1)"><text x="-15.3" y="0" font-size="11">0.2</text></g>
<g transform="translate(46,239.3) scale(1.07,1)"><text x="-15.3" y="0" font-size="11">0.0</text></g>
<g transform="translate(67.9,259.3) rotate(-45)"><text x="-5.7" y="0" font-size="10.3">0</text></g>
<g transform="translate(80.5,259.3) rotate(-45)"><path d="M-1.9 0L-1.9 -7.4L-2.6 -7.4L-3 -6.7L-3.6 -6.2L-4.6 -5.8L-4.6 -4.9L-3.7 -5.4L-2.8 -5.9L-2.8 0Z"/></g>
<g transform="translate(93,259.3) rotate(-45)"><text x="-5.7" y="0" font-size="10.3">2</text></g>
<g transform="translate(105.6,259.3) rotate(-45)"><text x="-5.7" y="0" font-size="10.3">3</text></g>
<g transform="translate(118.2,259.3) rotate(-45)"><text x="-5.7" y="0" font-size="10.3">4</text></g>
<g transform="translate(130.8,259.3) rotate(-45)"><text x="-5.7" y="0" font-size="10.3">5</text></g>
<g transform="translate(143.3,259.3) rotate(-45)"><text x="-5.7" y="0" font-size="10.3">6</text></g>
<g transform="translate(155.9,259.3) rotate(-45)"><text x="-5.7" y="0" font-size="10.3">7</text></g>
<g transform="translate(168.5,259.3) rotate(-45)"><text x="-5.7" y="0" font-size="10.3">8</text></g>
<g transform="translate(181,259.3) rotate(-45)"><text x="-5.7" y="0" font-size="10.3">9</text></g>
<g transform="translate(193.6,259.3) rotate(-45)"><text x="-5.7" y="0" font-size="10.3">0</text><path d="M-8.6 0L-8.6 -7.4L-9.2 -7.4L-9.7 -6.7L-10.3 -6.2L-11.3 -5.8L-11.3 -4.9L-10.3 -5.4L-9.5 -5.9L-9.5 0Z"/></g>
<g transform="translate(206.2,259.3) rotate(-45)"><path d="M-7.8 0L-7.8 -7.4L-8.5 -7.4L-8.9 -6.7L-9.5 -6.2L-10.5 -5.8L-10.5 -4.9L-9.6 -5.4L-8.7 -5.9L-8.7 0ZM-2.8 0L-2.8 -7.4L-3.5 -7.4L-4 -6.7L-4.5 -6.2L-5.6 -5.8L-5.6 -4.9L-4.6 -5.4L-3.8 -5.9L-3.8 0Z"/></g>
<g transform="translate(218.8,259.3) rotate(-45)"><text x="-5.7" y="0" font-size="10.3">2</text><path d="M-8.6 0L-8.6 -7.4L-9.2 -7.4L-9.7 -6.7L-10.3 -6.2L-11.3 -5.8L-11.3 -4.9L-10.3 -5.4L-9.5 -5.9L-9.5 0Z"/></g>
<g transform="translate(231.3,259.3) rotate(-45)"><text x="-5.7" y="0" font-size="10.3">3</text><path d="M-8.6 0L-8.6 -7.4L-9.2 -7.4L-9.7 -6.7L-10.3 -6.2L-11.3 -5.8L-11.3 -4.9L-10.3 -5.4L-9.5 -5.9L-9.5 0Z"/></g>
<g transform="translate(243.9,259.3) rotate(-45)"><text x="-5.7" y="0" font-size="10.3">4</text><path d="M-8.6 0L-8.6 -7.4L-9.2 -7.4L-9.7 -6.7L-10.3 -6.2L-11.3 -5.8L-11.3 -4.9L-10.3 -5.4L-9.5 -5.9L-9.5 0Z"/></g>
<text transform="translate(152,286.2) scale(0.745,1)" font-size="12.5" text-anchor="middle" stroke="#000" stroke-width="0.5">Time (years)</text>
<text transform="translate(22,138.3) rotate(-90) scale(0.74,1)" font-size="12.5" text-anchor="middle" stroke="#000" stroke-width="0.5">Progression-free survival</text>
</g>
<polyline points="71.5,631.2 72.8,631.2 72.8,633.6 74.1,633.6 74.1,635.9 75.4,635.9 75.4,638.3 76.3,638.3 76.3,640.2 77.3,640.2 77.3,642.1 79.7,642.1 79.7,642.6 82.1,642.6 82.1,643.1 85,643.1 85,644 86.5,644 86.5,646.4 87.9,646.4 87.9,648.8 89.3,648.8 89.3,650.8 90.8,650.8 90.8,652.7 93.2,652.7 93.2,655.1 95.6,655.1 95.6,657.5 96.5,657.5 96.5,659.4 97.5,659.4 97.5,661.3 98,661.3 98,663.8 98.5,663.8 98.5,666.2 98.8,666.2 98.8,668.7 99.1,668.7 99.1,671.3 99.4,671.3 99.4,673.8 101.3,673.8 101.3,675.8 102.8,675.8 102.8,677.7 104.2,677.7 104.2,679.6 104.9,679.6 104.9,681.5 105.5,681.5 105.5,683.5 106.2,683.5 106.2,685.4 106.8,685.4 106.8,687.3 107.5,687.3 107.5,689.3 108.1,689.3 108.1,691.2 111,691.2 111,694 112.4,694 112.4,696 113.8,696 113.8,697.9 115.2,697.9 115.2,699.8 116.7,699.8 116.7,701.7 117.7,701.7 117.7,704.1 118.7,704.1 118.7,706.5 120.8,706.5 120.8,707.9 122.9,707.9 122.9,709.2 124.8,709.2 124.8,710.2 126.7,710.2 126.7,711.2 128.7,711.2 128.7,713.1 130.6,713.1 130.6,713.5 132.5,713.5 132.5,714 134.4,714 134.4,716.9 135.4,716.9 135.4,718.8 136.3,718.8 136.3,720.8 137.3,720.8 137.3,723.2 138.3,723.2 138.3,725.6 141.2,725.6 141.2,727.5 143.6,727.5 143.6,728 146,728 146,728.5 147.9,728.5 147.9,731 154.6,731 157.5,731 157.5,733.8 160.4,733.8 160.4,735.2 162.3,735.2 162.3,737.1 164.2,737.1 164.2,740 166.2,740 166.2,742.3 168.1,742.3 168.1,744.4 192.9,744.4 192.9,753.2 214.4,753.2 214.4,767.6 245.2,767.6 245.2,825.6" fill="none" stroke="#6aae45" stroke-width="1.3" stroke-linejoin="miter"/>
<polyline points="72.3,631.2 73.3,631.2 73.3,633.3 74.4,633.3 74.4,635.4 77.3,635.4 77.3,638.3 80.2,638.3 80.2,640.2 82.6,640.2 82.6,641.2 85,641.2 85,642.1 86.9,642.1 86.9,644 87.8,644 87.8,646.4 88.8,646.4 88.8,648.8 91.7,648.8 91.7,651.7 93.2,651.7 93.2,654.1 94.6,654.1 94.6,656.5 96,656.5 96,658.5 97.5,658.5 97.5,660.4 109,660.4 109.5,660.4 109.5,663 110,663 110,665.5 111.9,665.5 111.9,665.6 113.8,665.6 113.8,665.6 115.8,665.6 115.8,665.7 117.7,665.7 117.7,665.8 117.9,665.8 117.9,667.8 118.1,667.8 118.1,669.8 118.3,669.8 118.3,671.8 118.5,671.8 118.5,673.8 118.7,673.8 118.7,675.8 119,675.8 119,677.9 119.3,677.9 119.3,680.1 119.7,680.1 119.7,682.2 120,682.2 120,684.3 120.3,684.3 120.3,686.5 120.6,686.5 120.6,688.6 138.6,688.6 138.6,708.6 148.6,708.6" fill="none" stroke="#30508f" stroke-width="1.3" stroke-linejoin="miter"/>
<path d="M72.4 635.8h3.2M74 633.3v5M82.4 643.7h3.2M84 641.2v5M99.4 675.5h3.2M101 673v5M106.9 691.6h3.2M108.5 689.1v5M111.4 696.8h3.2M113 694.3v5M141.5 727.9h3.2M143.1 725.4v5M143.4 728.3h3.2M145 725.8v5M145.3 729.7h3.2M146.9 727.2v5M152.1 731h3.2M153.7 728.5v5M154 732h3.2M155.6 729.5v5M156.9 734.3h3.2M158.5 731.8v5M158.8 735.2h3.2M160.4 732.7v5M160.7 737.1h3.2M162.3 734.6v5M164.6 742.3h3.2M166.2 739.8v5M166.5 744.4h3.2M168.1 741.9v5M172.2 744.4h3.2M173.8 741.9v5M173.2 744.4h3.2M174.8 741.9v5M178 744.4h3.2M179.6 741.9v5M182.8 744.4h3.2M184.4 741.9v5M184.7 744.4h3.2M186.3 741.9v5M189.6 744.4h3.2M191.2 741.9v5M191.1 744.4h3.2M192.7 741.9v5M202.3 753.2h3.2M203.9 750.7v5M210.9 753.2h3.2M212.5 750.7v5M223.1 767.6h3.2M224.7 765.1v5M229.9 767.6h3.2M231.5 765.1v5M234.6 767.6h3.2M236.2 765.1v5" stroke="#5fa83a" stroke-width="1.2" fill="none"/>
<path d="M70.1 631.2h4.4M72.3 628.8v4.8M72.3 635.5h4.4M74.5 633.1v4.8M74.8 638h4.4M77 635.6v4.8M76.8 639.4h4.4M79 637v4.8M78.3 640.3h4.4M80.5 637.9v4.8M82.8 642.1h4.4M85 639.7v4.8M84.7 644h4.4M86.9 641.6v4.8M86.8 649h4.4M89 646.6v4.8M88.3 650.5h4.4M90.5 648.1v4.8M96.8 660.4h4.4M99 658v4.8M99.3 660.4h4.4M101.5 658v4.8M101.8 660.4h4.4M104 658v4.8M103.8 660.4h4.4M106 658v4.8M106.8 660.4h4.4M109 658v4.8M108.8 665.5h4.4M111 663.1v4.8M111.3 665.6h4.4M113.5 663.2v4.8M113.8 665.7h4.4M116 663.3v4.8M117.2 680.5h4.4M119.4 678.1v4.8M119.8 688.6h4.4M122 686.2v4.8M121.8 688.6h4.4M124 686.2v4.8M123.8 688.6h4.4M126 686.2v4.8M125.3 688.6h4.4M127.5 686.2v4.8M126.8 688.6h4.4M129 686.2v4.8M129.3 688.6h4.4M131.5 686.2v4.8M130.8 688.6h4.4M133 686.2v4.8M132.3 688.6h4.4M134.5 686.2v4.8M137.6 708.6h4.4M139.8 706.2v4.8M139.3 708.6h4.4M141.5 706.2v4.8M146 708.6h4.4M148.2 706.2v4.8" stroke="#1c3674" stroke-width="1.2" fill="none"/>
<g transform="translate(127.1,673.6) scale(1.04,1)"><text x="0" y="0" font-size="10.5">BR (n=7</text><text x="44.7" y="0" font-size="10.5">)</text><path d="M42.7 0L42.7 -7.5L42 -7.5L41.6 -6.9L41 -6.4L39.9 -5.9L39.9 -5L40.9 -5.5L41.8 -6L41.8 0Z"/></g>
<g transform="translate(111.4,759.5) scale(1.03,1)"><text x="0" y="0" font-size="10.5">R</text><text x="10.3" y="0" font-size="10.5">CHOP (n=86)</text><path d="M8 -3.6h2v1.1h-2Z"/></g>
<g transform="translate(85.2,791.8) scale(1.06,1)"><text x="0" y="0" font-size="10.5">p=0.</text><text x="26.6" y="0" font-size="10.5">35</text><path d="M24.6 0L24.6 -7.5L23.9 -7.5L23.5 -6.9L22.9 -6.4L21.8 -5.9L21.8 -5L22.8 -5.5L23.7 -6L23.7 0Z"/></g>
<g transform="translate(260.4,590.5)">
<text x="10.7" y="21.8" font-size="16.4" font-weight="bold" fill="#000" stroke="#000" stroke-width="0.6">F</text>
<path d="M54.8 30.5V245.8H249.1" fill="none" stroke="#000" stroke-width="1.5"/>
<path d="M50.2 41.4H55M50.2 80.2H55M50.2 119.1H55M50.2 157.9H55M50.2 196.8H55M50.2 235.6H55M64 246.1V250.4M76.6 246.1V250.4M89.1 246.1V250.4M101.7 246.1V250.4M114.3 246.1V250.4M126.9 246.1V250.4M139.4 246.1V250.4M152 246.1V250.4M164.6 246.1V250.4M177.1 246.1V250.4M189.7 246.1V250.4M202.3 246.1V250.4M214.9 246.1V250.4M227.4 246.1V250.4M240 246.1V250.4" stroke="#000" stroke-width="1.3"/>
<g transform="translate(46,45.1) scale(1.07,1)"><text x="-9.2" y="0" font-size="11">.0</text><path d="M-11.2 0L-11.2 -7.9L-11.9 -7.9L-12.4 -7.2L-13 -6.7L-14.1 -6.2L-14.1 -5.3L-13.1 -5.7L-12.2 -6.3L-12.2 0Z"/></g>
<g transform="translate(46,84) scale(1.07,1)"><text x="-15.3" y="0" font-size="11">0.8</text></g>
<g transform="translate(46,122.8) scale(1.07,1)"><text x="-15.3" y="0" font-size="11">0.6</text></g>
<g transform="translate(46,161.7) scale(1.07,1)"><text x="-15.3" y="0" font-size="11">0.4</text></g>
<g transform="translate(46,200.5) scale(1.07,1)"><text x="-15.3" y="0" font-size="11">0.2</text></g>
<g transform="translate(46,239.3) scale(1.07,1)"><text x="-15.3" y="0" font-size="11">0.0</text></g>
<g transform="translate(67.9,259.3) rotate(-45)"><text x="-5.7" y="0" font-size="10.3">0</text></g>
<g transform="translate(80.5,259.3) rotate(-45)"><path d="M-1.9 0L-1.9 -7.4L-2.6 -7.4L-3 -6.7L-3.6 -6.2L-4.6 -5.8L-4.6 -4.9L-3.7 -5.4L-2.8 -5.9L-2.8 0Z"/></g>
<g transform="translate(93,259.3) rotate(-45)"><text x="-5.7" y="0" font-size="10.3">2</text></g>
<g transform="translate(105.6,259.3) rotate(-45)"><text x="-5.7" y="0" font-size="10.3">3</text></g>
<g transform="translate(118.2,259.3) rotate(-45)"><text x="-5.7" y="0" font-size="10.3">4</text></g>
<g transform="translate(130.8,259.3) rotate(-45)"><text x="-5.7" y="0" font-size="10.3">5</text></g>
<g transform="translate(143.3,259.3) rotate(-45)"><text x="-5.7" y="0" font-size="10.3">6</text></g>
<g transform="translate(155.9,259.3) rotate(-45)"><text x="-5.7" y="0" font-size="10.3">7</text></g>
<g transform="translate(168.5,259.3) rotate(-45)"><text x="-5.7" y="0" font-size="10.3">8</text></g>
<g transform="translate(181,259.3) rotate(-45)"><text x="-5.7" y="0" font-size="10.3">9</text></g>
<g transform="translate(193.6,259.3) rotate(-45)"><text x="-5.7" y="0" font-size="10.3">0</text><path d="M-8.6 0L-8.6 -7.4L-9.2 -7.4L-9.7 -6.7L-10.3 -6.2L-11.3 -5.8L-11.3 -4.9L-10.3 -5.4L-9.5 -5.9L-9.5 0Z"/></g>
<g transform="translate(206.2,259.3) rotate(-45)"><path d="M-7.8 0L-7.8 -7.4L-8.5 -7.4L-8.9 -6.7L-9.5 -6.2L-10.5 -5.8L-10.5 -4.9L-9.6 -5.4L-8.7 -5.9L-8.7 0ZM-2.8 0L-2.8 -7.4L-3.5 -7.4L-4 -6.7L-4.5 -6.2L-5.6 -5.8L-5.6 -4.9L-4.6 -5.4L-3.8 -5.9L-3.8 0Z"/></g>
<g transform="translate(218.8,259.3) rotate(-45)"><text x="-5.7" y="0" font-size="10.3">2</text><path d="M-8.6 0L-8.6 -7.4L-9.2 -7.4L-9.7 -6.7L-10.3 -6.2L-11.3 -5.8L-11.3 -4.9L-10.3 -5.4L-9.5 -5.9L-9.5 0Z"/></g>
<g transform="translate(231.3,259.3) rotate(-45)"><text x="-5.7" y="0" font-size="10.3">3</text><path d="M-8.6 0L-8.6 -7.4L-9.2 -7.4L-9.7 -6.7L-10.3 -6.2L-11.3 -5.8L-11.3 -4.9L-10.3 -5.4L-9.5 -5.9L-9.5 0Z"/></g>
<g transform="translate(243.9,259.3) rotate(-45)"><text x="-5.7" y="0" font-size="10.3">4</text><path d="M-8.6 0L-8.6 -7.4L-9.2 -7.4L-9.7 -6.7L-10.3 -6.2L-11.3 -5.8L-11.3 -4.9L-10.3 -5.4L-9.5 -5.9L-9.5 0Z"/></g>
<text transform="translate(152,286.2) scale(0.745,1)" font-size="12.5" text-anchor="middle" stroke="#000" stroke-width="0.5">Time (years)</text>
<text transform="translate(22,138.3) rotate(-90) scale(0.74,1)" font-size="12.5" text-anchor="middle" stroke="#000" stroke-width="0.5">Overall survival</text>
</g>
<polyline points="331.5,631.5 333.9,631.5 333.9,633.5 336.3,633.5 336.3,635.4 339.2,635.4 339.2,638.3 342.1,638.3 342.1,641.2 345,641.2 345,643.1 347.9,643.1 347.9,646 350.3,646 350.3,647.4 352.7,647.4 352.7,648.8 353.6,648.8 353.6,650.8 354.6,650.8 354.6,652.7 356.5,652.7 356.5,653.3 358.5,653.3 358.5,654 360.4,654 360.4,654.6 362.3,654.6 362.3,655.5 364.2,655.5 364.2,656.5 366.9,656.5 366.9,657.7 368.5,657.7 368.5,660.8 370.8,660.8 370.8,662.3 378.5,662.3 380,662.3 380,663.1 380.8,663.1 380.8,665 381.5,665 381.5,666.9 383.1,666.9 383.1,669.6 384.6,669.6 384.6,672.3 386.1,672.3 386.1,674.2 387.7,674.2 387.7,676.2 389.7,676.2 389.7,676.4 391.8,676.4 391.8,676.7 393.8,676.7 393.8,676.9 395.4,676.9 395.4,680 395.6,680 395.6,682.1 395.8,682.1 395.8,684.2 396,684.2 396,686.3 396.6,686.3 396.6,688.6 397.3,688.6 397.3,690.8 397.9,690.8 397.9,693.1 399.8,693.1 399.8,693.2 401.6,693.2 401.6,693.4 403.5,693.4 403.5,693.5 403.9,693.5 403.9,696.2 404.2,696.2 404.2,699 406.3,699 406.3,699 408.4,699 408.4,699.1 410.5,699.1 410.5,699.1 412.7,699.1 412.7,699.2 414.8,699.2 414.8,699.2 416.9,699.2 416.9,699.3 419,699.3 419,699.3 421.2,699.3 421.2,701.2 424.3,701.2 424.3,703.3 426.4,703.3 426.4,705.8 428.5,705.8 428.5,706.1 430.7,706.1 430.7,706.4 431.7,706.4 431.7,708.6 434.2,708.6 434.2,708.8 436.6,708.8 436.6,709 439.1,709 439.1,709.2 439.6,709.2 439.6,711.4 440.2,711.4 440.2,713.6 442.4,713.6 442.4,713.6 444.5,713.6 444.5,713.7 446.6,713.7 446.6,713.7 448.8,713.7 448.8,713.7 451,713.7 451,713.8 453.1,713.8 453.1,713.8 453.2,713.8 453.2,716 453.2,716 453.2,718.2 453.3,718.2 453.3,720.4 455.4,720.4 455.4,720.4 457.6,720.4 457.6,720.4 459.8,720.4 459.8,720.5 461.9,720.5 461.9,720.5 464.1,720.5 464.1,720.5 466.2,720.5 466.2,720.5 468.4,720.5 468.4,720.5 470.5,720.5 470.5,720.6 472.7,720.6 472.7,720.6 474.8,720.6 474.8,720.6 474.9,720.6 474.9,722.9 475,722.9 475,725.2 475,725.2 475,727.4 475.1,727.4 475.1,729.7 489.2,729.7 489.2,748.8 492.5,748.8 492.5,775.5 505.7,775.5 505.7,825.6" fill="none" stroke="#6aae45" stroke-width="1.3" stroke-linejoin="miter"/>
<polyline points="331.5,631.5 334.4,631.5 334.4,634.4 337.3,634.4 342.1,634.4 344,634.4 344,636.3 344,639.2 346.9,639.2 346.9,641.2 348.8,641.2 348.8,644 350.8,644 350.8,646.9 353.7,646.9 353.7,648.5 355.6,648.5 357.5,648.5 357.5,650.8 359.8,650.8 359.8,650.9 362,650.9 362,650.9 364.2,650.9 364.2,651 366.5,651 366.5,651.1 368.8,651.1 368.8,651.1 371,651.1 371,651.2 371,655.8 373.6,655.8 373.6,655.9 376.1,655.9 376.1,656.1 378.7,656.1 378.7,656.2 379.1,656.2 379.1,658.3 379.6,658.3 379.6,660.4 380.1,660.4 380.1,662.1 380.6,662.1 380.6,663.8 408.8,663.8" fill="none" stroke="#30508f" stroke-width="1.3" stroke-linejoin="miter"/>
<path d="M336.4 637.1h3.2M338 634.6v5M341.4 641.8h3.2M343 639.3v5M350.4 648.4h3.2M352 645.9v5M359.4 654.9h3.2M361 652.4v5M363.4 656.9h3.2M365 654.4v5M365.9 658.9h3.2M367.5 656.4v5M372.4 662.3h3.2M374 659.8v5M375.4 662.3h3.2M377 659.8v5M395.9 691.7h3.2M397.5 689.2v5M400.4 693.4h3.2M402 690.9v5M404.4 699h3.2M406 696.5v5M412.4 699.2h3.2M414 696.7v5M415.4 699.3h3.2M417 696.8v5M421.4 702.4h3.2M423 699.9v5M423.9 704.7h3.2M425.5 702.2v5M425.9 706h3.2M427.5 703.5v5M432.9 708.8h3.2M434.5 706.3v5M436.9 709.2h3.2M438.5 706.7v5M441.9 713.7h3.2M443.5 711.2v5M444.9 713.7h3.2M446.5 711.2v5M447.4 713.7h3.2M449 711.2v5M449.9 713.8h3.2M451.5 711.3v5M458.4 720.5h3.2M460 718v5M461.4 720.5h3.2M463 718v5M470.4 720.6h3.2M472 718.1v5M478.4 729.7h3.2M480 727.2v5M480.9 729.7h3.2M482.5 727.2v5M483.4 729.7h3.2M485 727.2v5M485.9 729.7h3.2M487.5 727.2v5M490.2 748.8h3.2M491.8 746.3v5M494.7 775.5h3.2M496.3 773v5" stroke="#5fa83a" stroke-width="1.2" fill="none"/>
<path d="M329.3 631.5h4.4M331.5 629.1v4.8M331.8 634h4.4M334 631.6v4.8M333.8 634.4h4.4M336 632v4.8M335.8 634.4h4.4M338 632v4.8M337.8 634.4h4.4M340 632v4.8M343.8 640.6h4.4M346 638.2v4.8M345.8 642.8h4.4M348 640.4v4.8M347.8 645.7h4.4M350 643.3v4.8M350.8 648.1h4.4M353 645.7v4.8M352.8 648.5h4.4M355 646.1v4.8M356.3 650.8h4.4M358.5 648.4v4.8M358.8 650.9h4.4M361 648.5v4.8M360.8 651h4.4M363 648.6v4.8M363.8 651.1h4.4M366 648.7v4.8M366.3 651.1h4.4M368.5 648.7v4.8M370.3 655.9h4.4M372.5 653.5v4.8M372.8 656h4.4M375 653.6v4.8M375.3 656.1h4.4M377.5 653.7v4.8M379.3 663.8h4.4M381.5 661.4v4.8M381.3 663.8h4.4M383.5 661.4v4.8M383.2 663.8h4.4M385.4 661.4v4.8M385.1 663.8h4.4M387.3 661.4v4.8M388 663.8h4.4M390.2 661.4v4.8M389.9 663.8h4.4M392.1 661.4v4.8M391.8 663.8h4.4M394 661.4v4.8M398.6 663.8h4.4M400.8 661.4v4.8M406.3 663.8h4.4M408.5 661.4v4.8" stroke="#1c3674" stroke-width="1.2" fill="none"/>
<g transform="translate(413.8,668.2) scale(1.04,1)"><text x="0" y="0" font-size="10.5">BR (n=7</text><text x="44.7" y="0" font-size="10.5">)</text><path d="M42.7 0L42.7 -7.5L42 -7.5L41.6 -6.9L41 -6.4L39.9 -5.9L39.9 -5L40.9 -5.5L41.8 -6L41.8 0Z"/></g>
<g transform="translate(391.2,736.6) scale(1.03,1)"><text x="0" y="0" font-size="10.5">R</text><text x="10.3" y="0" font-size="10.5">CHOP (n=86)</text><path d="M8 -3.6h2v1.1h-2Z"/></g>
<g transform="translate(341.5,792.5) scale(1.06,1)"><text x="0" y="0" font-size="10.5">p=0.305</text></g>
<rect x="0.75" y="0.75" width="518.5" height="888.5" fill="none" stroke="#000" stroke-width="1.5"/>
</svg>
</body></html>
